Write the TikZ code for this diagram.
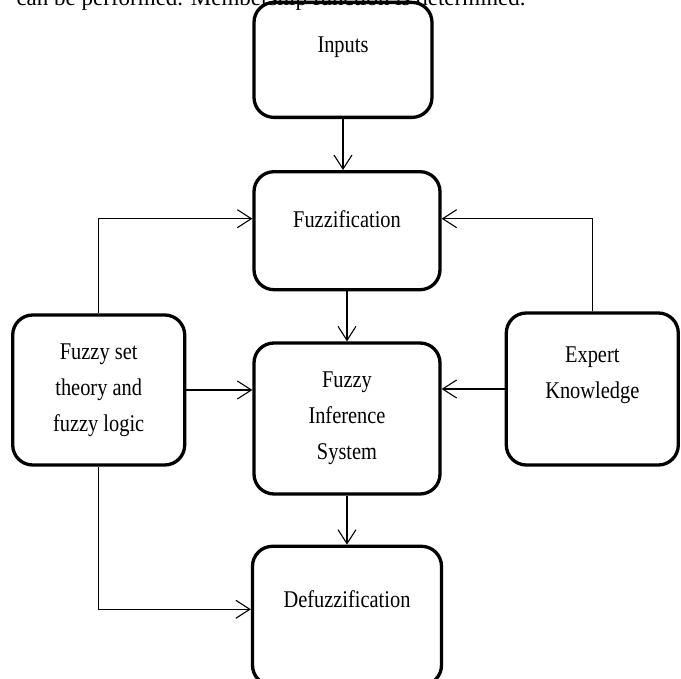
\documentclass[tikz,border=0pt]{standalone}
\usepackage{fontspec}
\setmainfont{Liberation Serif}[FakeStretch=0.85]
\newfontfamily\bodyfont{Liberation Serif}
\usetikzlibrary{arrows.meta,positioning}

\begin{document}
\begin{tikzpicture}[font=\fontsize{24}{36}\selectfont, node distance=50pt and 65pt,
box/.style={draw,line width=3.3pt,rounded corners=20pt,align=center,inner sep=0pt},
arr/.style={-{Straight Barb[length=14pt,width=18pt]},line width=1.1pt}]
\useasboundingbox (0,0) rectangle (681pt,-679pt);
\node[anchor=base west,font=\bodyfont\fontsize{23}{27}\selectfont] (caption) at (13pt,-6pt) {can be performed. Membership function is determined.};
\node[box,minimum width=186pt,minimum height=151pt] (fis) at (347pt,-418.5pt) {Fuzzy\\Inference\\System};
\node[box,minimum width=186pt,minimum height=118pt,text depth=24pt,above=50pt of fis] (fuzz) {Fuzzification};
\node[box,minimum width=178pt,minimum height=115pt,text depth=30pt,above=51pt of fuzz,xshift=-4pt] (inputs) {Inputs};
\node[box,minimum width=189pt,minimum height=139pt,text depth=34pt,below=49pt of fis] (defuzz) {Defuzzification};
\node[box,minimum width=172pt,minimum height=150pt,left=66pt of fis,yshift=28.5pt] (fuzzyset) {Fuzzy set\\theory and\\fuzzy logic};
\node[box,minimum width=172pt,minimum height=152pt,text depth=32pt,right=63pt of fis,yshift=29.5pt] (expert) {Expert\\Knowledge};
\draw[arr] (inputs.south) -- (inputs.south |- fuzz.north);
\draw[arr] (fuzz.south) -- (fuzz.south |- fis.north);
\draw[arr] (fis.south) -- (fis.south |- defuzz.north);
\draw[arr] (fuzzyset.north) |- ([yshift=12pt]fuzz.west);
\draw[arr] (expert.north) |- ([yshift=12pt]fuzz.east);
\draw[arr] (fuzzyset.east) -- (fuzzyset.east -| fis.west);
\draw[arr] (expert.west) -- (expert.west -| fis.east);
\draw[arr] (fuzzyset.south) |- ([yshift=6.5pt]defuzz.west);
\end{tikzpicture}
\end{document}
